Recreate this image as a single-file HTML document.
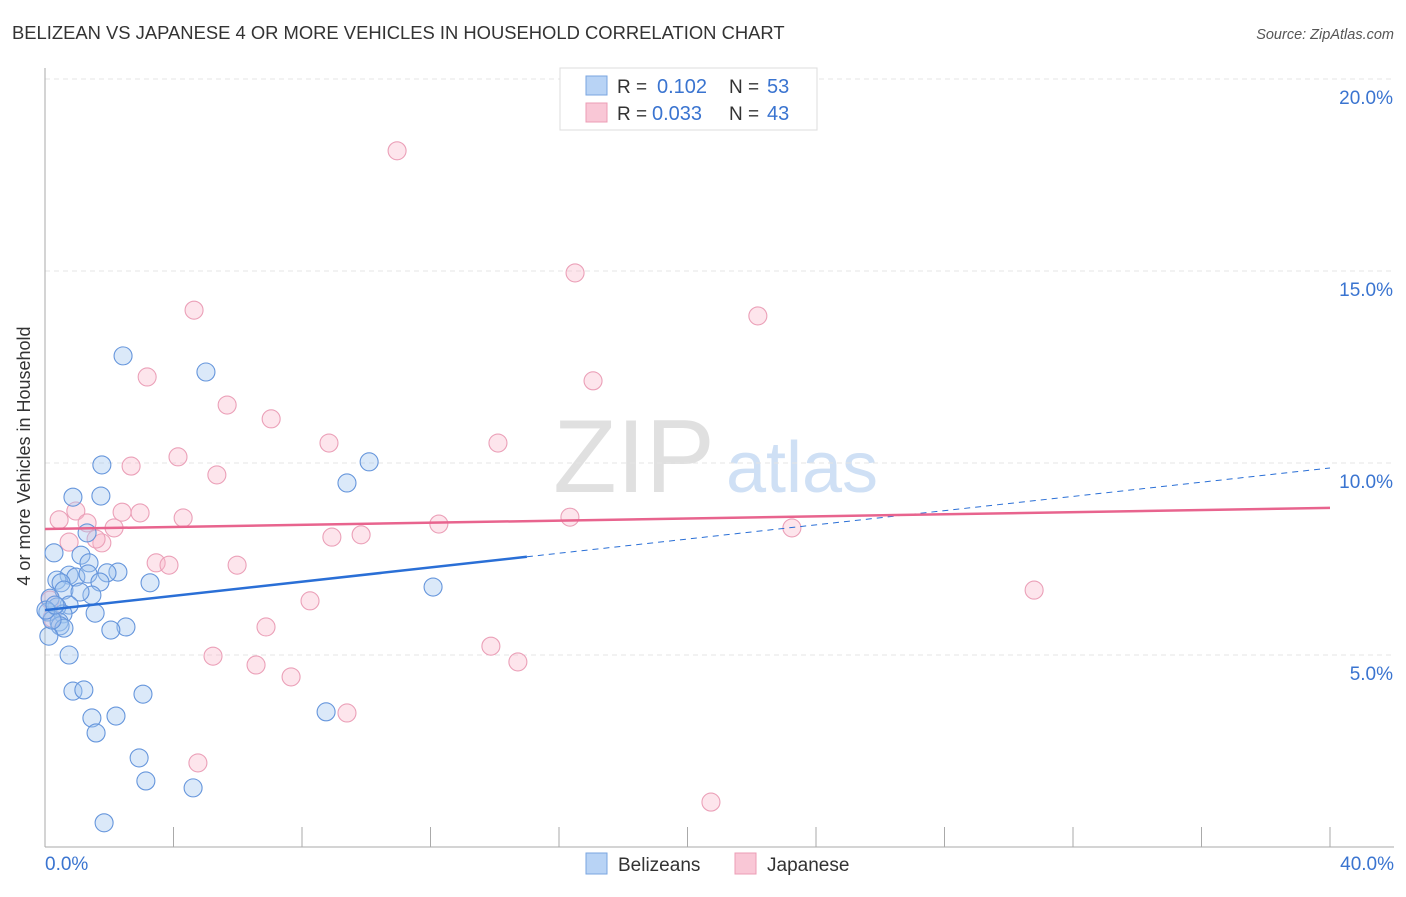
<!DOCTYPE html>
<html><head><meta charset="utf-8"><style>
body{margin:0;background:#fff;font-family:"Liberation Sans",sans-serif;}
svg text{font-family:"Liberation Sans",sans-serif;}
</style></head><body>
<svg id="chart" width="1406" height="892" xmlns="http://www.w3.org/2000/svg">
<text x="12" y="39" font-size="18.4" fill="#333">BELIZEAN VS JAPANESE 4 OR MORE VEHICLES IN HOUSEHOLD CORRELATION CHART</text>
<text x="1394" y="39" font-size="14.5" fill="#555" font-style="italic" text-anchor="end">Source: ZipAtlas.com</text>
<text x="30" y="456" font-size="18" fill="#333" text-anchor="middle" transform="rotate(-90 30 456)">4 or more Vehicles in Household</text>
<text x="634" y="492" font-size="104" fill="#e0e0e0" font-family="Liberation Serif" text-anchor="middle">ZIP</text>
<text x="802" y="492" font-size="72" fill="#cfe0f5" text-anchor="middle">atlas</text>
<g id="grid"></g>
<g id="axes"></g>
<g id="marks"></g>
<g>
<rect x="560" y="68" width="257" height="62" fill="#fff" stroke="#ddd"/>
<rect x="586" y="76" width="21" height="19" fill="#b8d3f5" stroke="#7aa6e0"/>
<rect x="586" y="103" width="21" height="19" fill="#f9c7d6" stroke="#ec9cb5"/>
<text x="617" y="93" font-size="19" fill="#333">R = </text><text x="657" y="93" font-size="20" fill="#3a74d0">0.102</text>
<text x="729" y="93" font-size="19" fill="#333">N = </text><text x="767" y="93" font-size="20" fill="#3a74d0">53</text>
<text x="617" y="120" font-size="19" fill="#333">R = </text><text x="652" y="120" font-size="20" fill="#3a74d0">0.033</text>
<text x="729" y="120" font-size="19" fill="#333">N = </text><text x="767" y="120" font-size="20" fill="#3a74d0">43</text>
</g>
<g>
<rect x="586" y="853" width="21" height="21" fill="#b8d3f5" stroke="#7aa6e0"/>
<text x="618" y="871" font-size="19" fill="#333">Belizeans</text>
<rect x="735" y="853" width="21" height="21" fill="#f9c7d6" stroke="#ec9cb5"/>
<text x="767" y="871" font-size="19" fill="#333">Japanese</text>
</g>
</svg>
<script>
const blueX=[2.43,5.01,1.77,10.09,0.87,1.74,9.40,1.31,0.28,1.12,1.37,2.27,0.75,1.93,0.96,0.37,1.34,0.50,1.71,3.27,12.08,0.59,1.46,1.09,0.16,0.75,0.37,0.09,1.56,0.56,0.44,0.47,0.59,2.52,2.05,0.12,0.75,0.87,1.21,3.05,1.46,2.21,1.59,8.75,2.93,3.14,4.61,1.84,0.22,0.03,0.31];
const blueY=[12.79,12.37,9.95,10.03,9.11,9.14,9.48,8.18,7.66,7.60,7.40,7.16,7.08,7.14,7.03,6.95,7.11,6.88,6.90,6.88,6.77,6.69,6.56,6.64,6.48,6.30,6.25,6.12,6.09,6.07,5.86,5.76,5.70,5.73,5.65,5.49,5.00,4.06,4.09,3.98,3.36,3.41,2.97,3.52,2.32,1.72,1.54,0.63,5.91,6.17,6.30];
const pinkX=[10.96,16.50,4.64,22.19,3.18,17.06,5.67,7.04,8.84,14.10,4.14,2.68,5.35,0.44,0.96,1.31,2.15,2.40,2.96,4.30,12.26,16.34,23.25,0.75,1.77,1.59,8.93,9.84,3.46,3.86,5.98,8.25,30.79,6.88,5.23,6.57,13.88,14.72,7.66,9.40,4.76,20.73,0.16,0.22];
const pinkY=[18.13,14.95,13.98,13.83,12.24,12.14,11.51,11.15,10.52,10.52,10.16,9.92,9.69,8.52,8.75,8.44,8.31,8.72,8.70,8.57,8.41,8.59,8.31,7.94,7.92,8.02,8.07,8.13,7.40,7.34,7.34,6.41,6.69,5.73,4.97,4.74,5.23,4.82,4.43,3.49,2.19,1.17,6.43,5.96];
const yTicks=[5,10,15,20];
const yTickLabels=["5.0%","10.0%","15.0%","20.0%"];
const xTicks=[0,4,8,12,16,20,24,28,32,36,40];
const blueTrend=[6.17,9.87]; const blueSolidEnd=15;
const pinkTrend=[8.28,8.83];
const NS="http://www.w3.org/2000/svg";
const sx=v=>45+v*32.125, sy=v=>847-v*38.4;
function mk(t,a,p){const e=document.createElementNS(NS,t);for(const k in a)e.setAttribute(k,a[k]);p.appendChild(e);return e;}
const grid=document.getElementById('grid'),axes=document.getElementById('axes'),marks=document.getElementById('marks');
yTicks.forEach((t,i)=>{
 const l=mk('line',{x1:45,x2:1394,y1:sy(t),y2:sy(t),stroke:'#e4e4e4','stroke-dasharray':'5,4'},grid);
 
 
 const tx=mk('text',{x:1393,y:sy(t)+25,'font-size':19,fill:'#3a74d0','text-anchor':'end'},axes);
 tx.textContent=yTickLabels[i];
 
 
});
const ax=mk('line',{x1:45,x2:45,y1:68,y2:847,stroke:'#aaa'},axes);


const xa=mk('line',{x1:45,x2:1394,y1:847,y2:847,stroke:'#aaa'},axes);


xTicks.forEach(t=>{const l=mk('line',{x1:sx(t),x2:sx(t),y1:827,y2:847,stroke:'#aaa'},axes);
 
 });
const x0=mk('text',{x:45,y:870,'font-size':19,fill:'#3a74d0'},axes);x0.textContent='0.0%';


const x1=mk('text',{x:1394,y:870,'font-size':19,fill:'#3a74d0','text-anchor':'end'},axes);x1.textContent='40.0%';


function dots(X,Y,fill,stroke,name){X.forEach((x,i)=>{const c=mk('circle',{cx:sx(x),cy:sy(Y[i]),r:9,fill:fill,stroke:stroke,'stroke-width':1.1},marks);
 
 });}
dots(pinkX,pinkY,'rgba(248,180,200,0.35)','#eba0b8','point-japanese');
dots(blueX,blueY,'rgba(160,196,240,0.38)','#6696dc','point-belizean');
const bAt=v=>blueTrend[0]+(blueTrend[1]-blueTrend[0])*v/40;
const b1=mk('line',{x1:sx(0),y1:sy(bAt(0)),x2:sx(blueSolidEnd),y2:sy(bAt(blueSolidEnd)),stroke:'#2a6fd6','stroke-width':2.5},marks);


const b2=mk('line',{x1:sx(blueSolidEnd),y1:sy(bAt(blueSolidEnd)),x2:sx(40),y2:sy(bAt(40)),stroke:'#2a6fd6','stroke-width':1,'stroke-dasharray':'6,5'},marks);


const p1=mk('line',{x1:sx(0),y1:sy(pinkTrend[0]),x2:sx(40),y2:sy(pinkTrend[1]),stroke:'#e8648e','stroke-width':2.5},marks);


</script>
</body></html>
